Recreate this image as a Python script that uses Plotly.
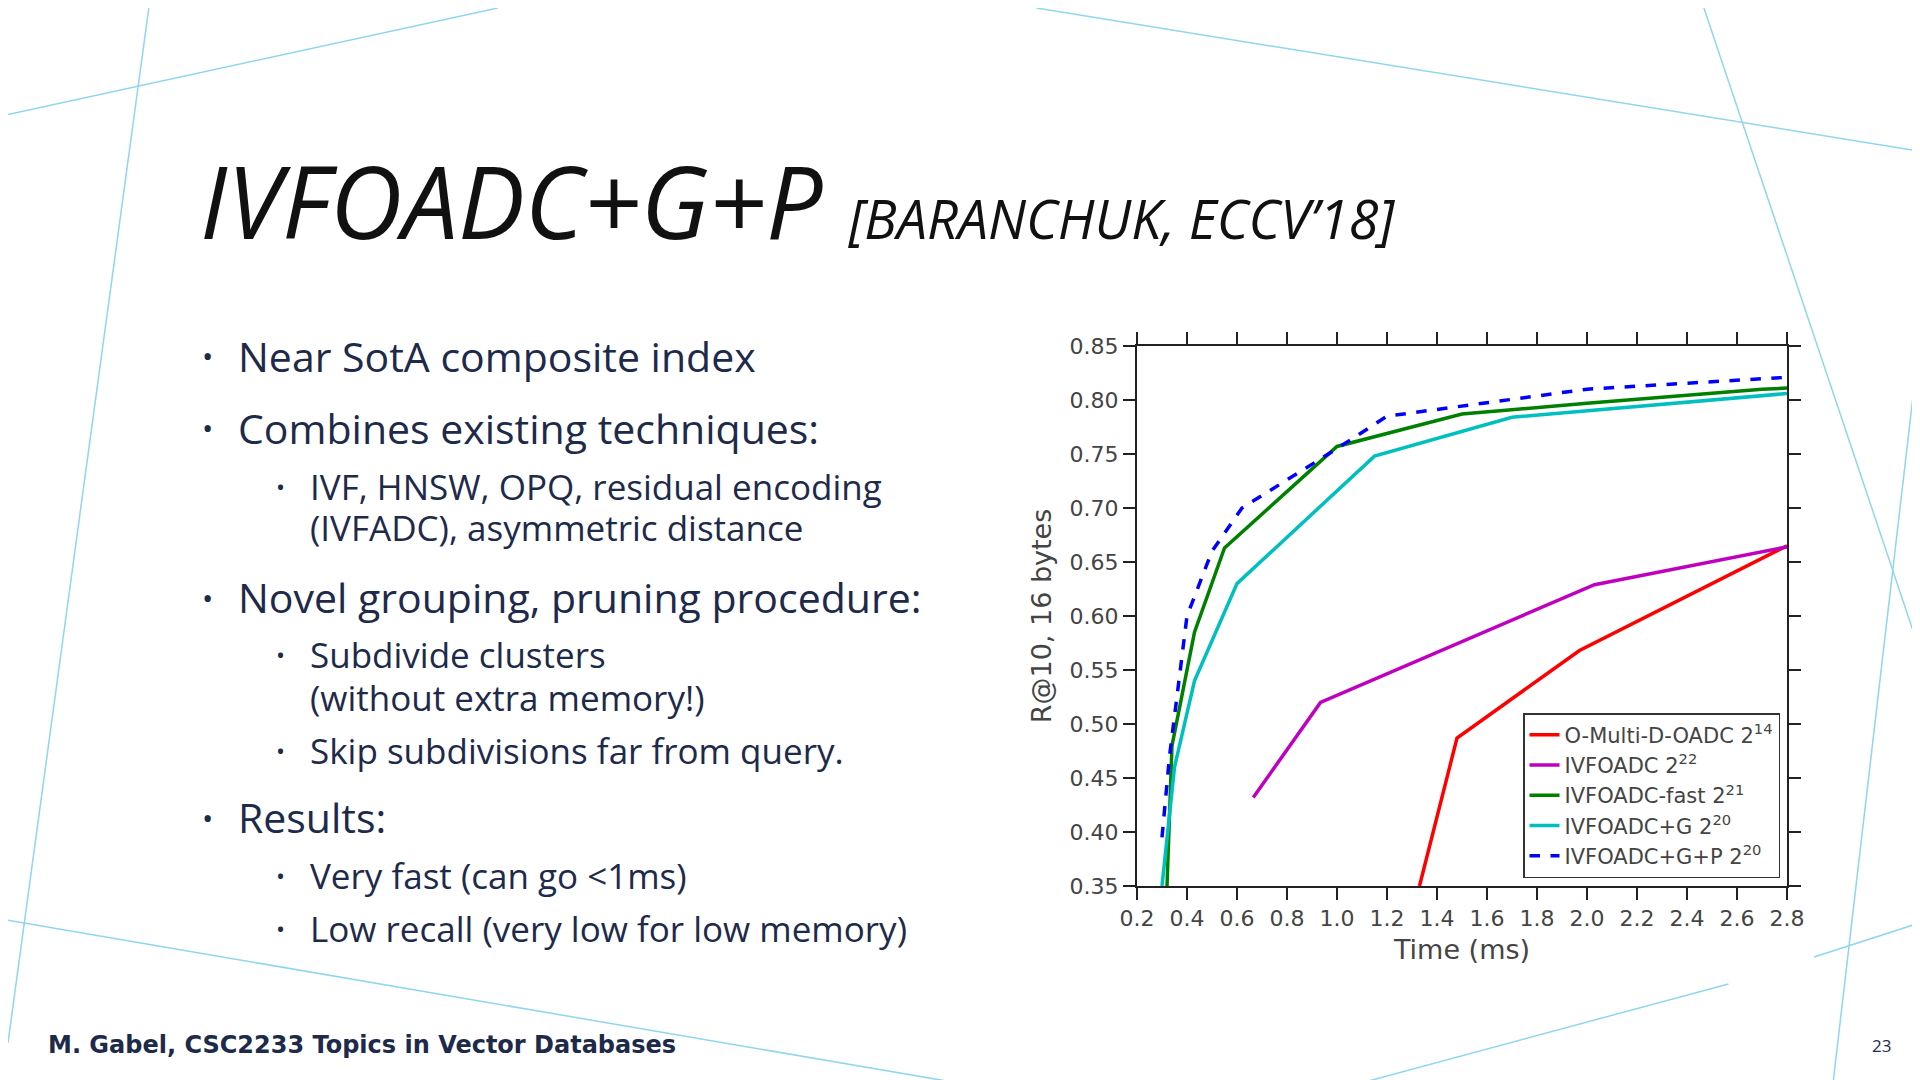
import plotly.graph_objects as go

# data
red_x = [1.33, 1.48, 1.97, 2.8]
red_y = [0.35, 0.487, 0.568, 0.665]
mag_x = [0.665, 0.934, 2.03, 2.8]
mag_y = [0.432, 0.520, 0.629, 0.664]
green_x = [0.32, 0.34, 0.43, 0.55, 1.0, 1.5, 2.0, 2.7, 2.8]
green_y = [0.35, 0.48, 0.585, 0.663, 0.757, 0.787, 0.797, 0.810, 0.811]
cyan_x = [0.30, 0.35, 0.43, 0.60, 1.15, 1.70, 2.8]
cyan_y = [0.35, 0.46, 0.54, 0.63, 0.748, 0.784, 0.806]
blue_x = [0.30, 0.33, 0.40, 0.50, 0.62, 0.90, 1.0, 1.2, 2.0, 2.8]
blue_y = [0.395, 0.47, 0.60, 0.66, 0.70, 0.74, 0.755, 0.785, 0.81, 0.821]

names = ["O-Multi-D-OADC 2<sup>14</sup>", "IVFOADC 2<sup>22</sup>", "IVFOADC-fast 2<sup>21</sup>",
         "IVFOADC+G 2<sup>20</sup>", "IVFOADC+G+P 2<sup>20</sup>"]
x_ticks = [0.2, 0.4, 0.6, 0.8, 1.0, 1.2, 1.4, 1.6, 1.8, 2.0, 2.2, 2.4, 2.6, 2.8]
y_ticks = [0.35, 0.40, 0.45, 0.50, 0.55, 0.60, 0.65, 0.70, 0.75, 0.80, 0.85]

fig = go.Figure()
series = [(red_x, red_y, "#ff0000", "solid"), (mag_x, mag_y, "#bf00bf", "solid"),
          (green_x, green_y, "#008000", "solid"), (cyan_x, cyan_y, "#00bfbf", "solid"),
          (blue_x, blue_y, "#0000ff", "dash")]
for (xs, ys, c, d), n in zip(series, names):
    fig.add_trace(go.Scatter(x=xs, y=ys, mode="lines", name=n, line=dict(color=c, width=3.5, dash=d)))

axis_style = dict(showgrid=False, zeroline=False, showline=True, linecolor="#222", linewidth=2,
                  mirror="allticks", ticks="outside", ticklen=12, tickwidth=2, tickcolor="#222",
                  tickfont=dict(family="DejaVu Sans", size=22, color="#444"))
fig.update_xaxes(range=[0.2, 2.8], tickvals=x_ticks, ticktext=[f"{v:.1f}" for v in x_ticks],
                 domain=[1129/1920, 1779/1920],
                 title=dict(text="Time (ms)", font=dict(family="DejaVu Sans", size=27, color="#444"), standoff=10),
                 **axis_style)
fig.update_yaxes(range=[0.35, 0.85], tickvals=y_ticks, ticktext=[f"{v:.2f}" for v in y_ticks],
                 domain=[1 - 878/1080, 1 - 338/1080],
                 title=dict(text="R@10, 16 bytes", font=dict(family="DejaVu Sans", size=27, color="#444"), standoff=10),
                 **axis_style)

# slide decoration lines (displayed-px coords of a 1568x882 slide)
deco = [((0, 87), (400, 0)), ((115, 0), (0, 845)), ((840, 0), (1568, 118)), ((1385, 0), (1568, 545)),
        ((1568, 212), (1490, 882)), ((0, 745), (800, 882)), ((1090, 882), (1405, 797)),
        ((1475, 775), (1568, 745))]
for (x0, y0), (x1, y1) in deco:
    fig.add_shape(type="line", xref="paper", yref="paper", x0=x0/1568, y0=1-y0/882, x1=x1/1568, y1=1-y1/882,
                  line=dict(color="#8fd6ee", width=1.5), layer="below")

navy = "#1e2a4a"
def txt(x, y, s, size, **kw):
    fig.add_annotation(x=x/1920, y=1-y/1080, xref="paper", yref="paper", text=s, showarrow=False,
                       xanchor=kw.pop("xanchor", "left"), yanchor="middle",
                       font=dict(family=kw.pop("family", "Open Sans"), size=size, color=kw.pop("color", navy)), **kw)

txt(190, 192, "<i>IVFOADC+G+P</i> <i><span style='font-size:54px'>[BARANCHUK, ECCV’18]</span></i>", 100, color="#111")
bullets1 = [(348, "Near SotA composite index"), (420, "Combines existing techniques:"),
            (589, "Novel grouping, pruning procedure:"), (809, "Results:")]
bullets2 = [(478, "IVF, HNSW, OPQ, residual encoding", True), (520, "(IVFADC), asymmetric distance", False),
            (646, "Subdivide clusters", True), (689, "(without extra memory!)", False),
            (742, "Skip subdivisions far from query.", True), (867, "Very fast (can go <1ms)", True),
            (920, "Low recall (very low for low memory)", True)]
for y, s in bullets1:
    txt(192, y, "•", 30)
    txt(228, y, s, 41)
for y, s, b in bullets2:
    if b:
        txt(266, y, "•", 24)
    txt(300, y, s, 35)
txt(38, 1037, "<b>M. Gabel, CSC2233 Topics in Vector Databases</b>", 24, family="DejaVu Sans")
txt(1885, 1037, "23", 17, xanchor="right")

fig.update_layout(width=1920, height=1080, margin=dict(l=0, r=0, t=0, b=0, autoexpand=False),
                  paper_bgcolor="white", plot_bgcolor="white",
                  legend=dict(x=1772/1920, y=1-870/1080, xanchor="right", yanchor="bottom",
                              bordercolor="#333", borderwidth=1.5, bgcolor="white",
                              font=dict(family="DejaVu Sans", size=21, color="#444"), tracegroupgap=4))
fig.write_html("out.html")
